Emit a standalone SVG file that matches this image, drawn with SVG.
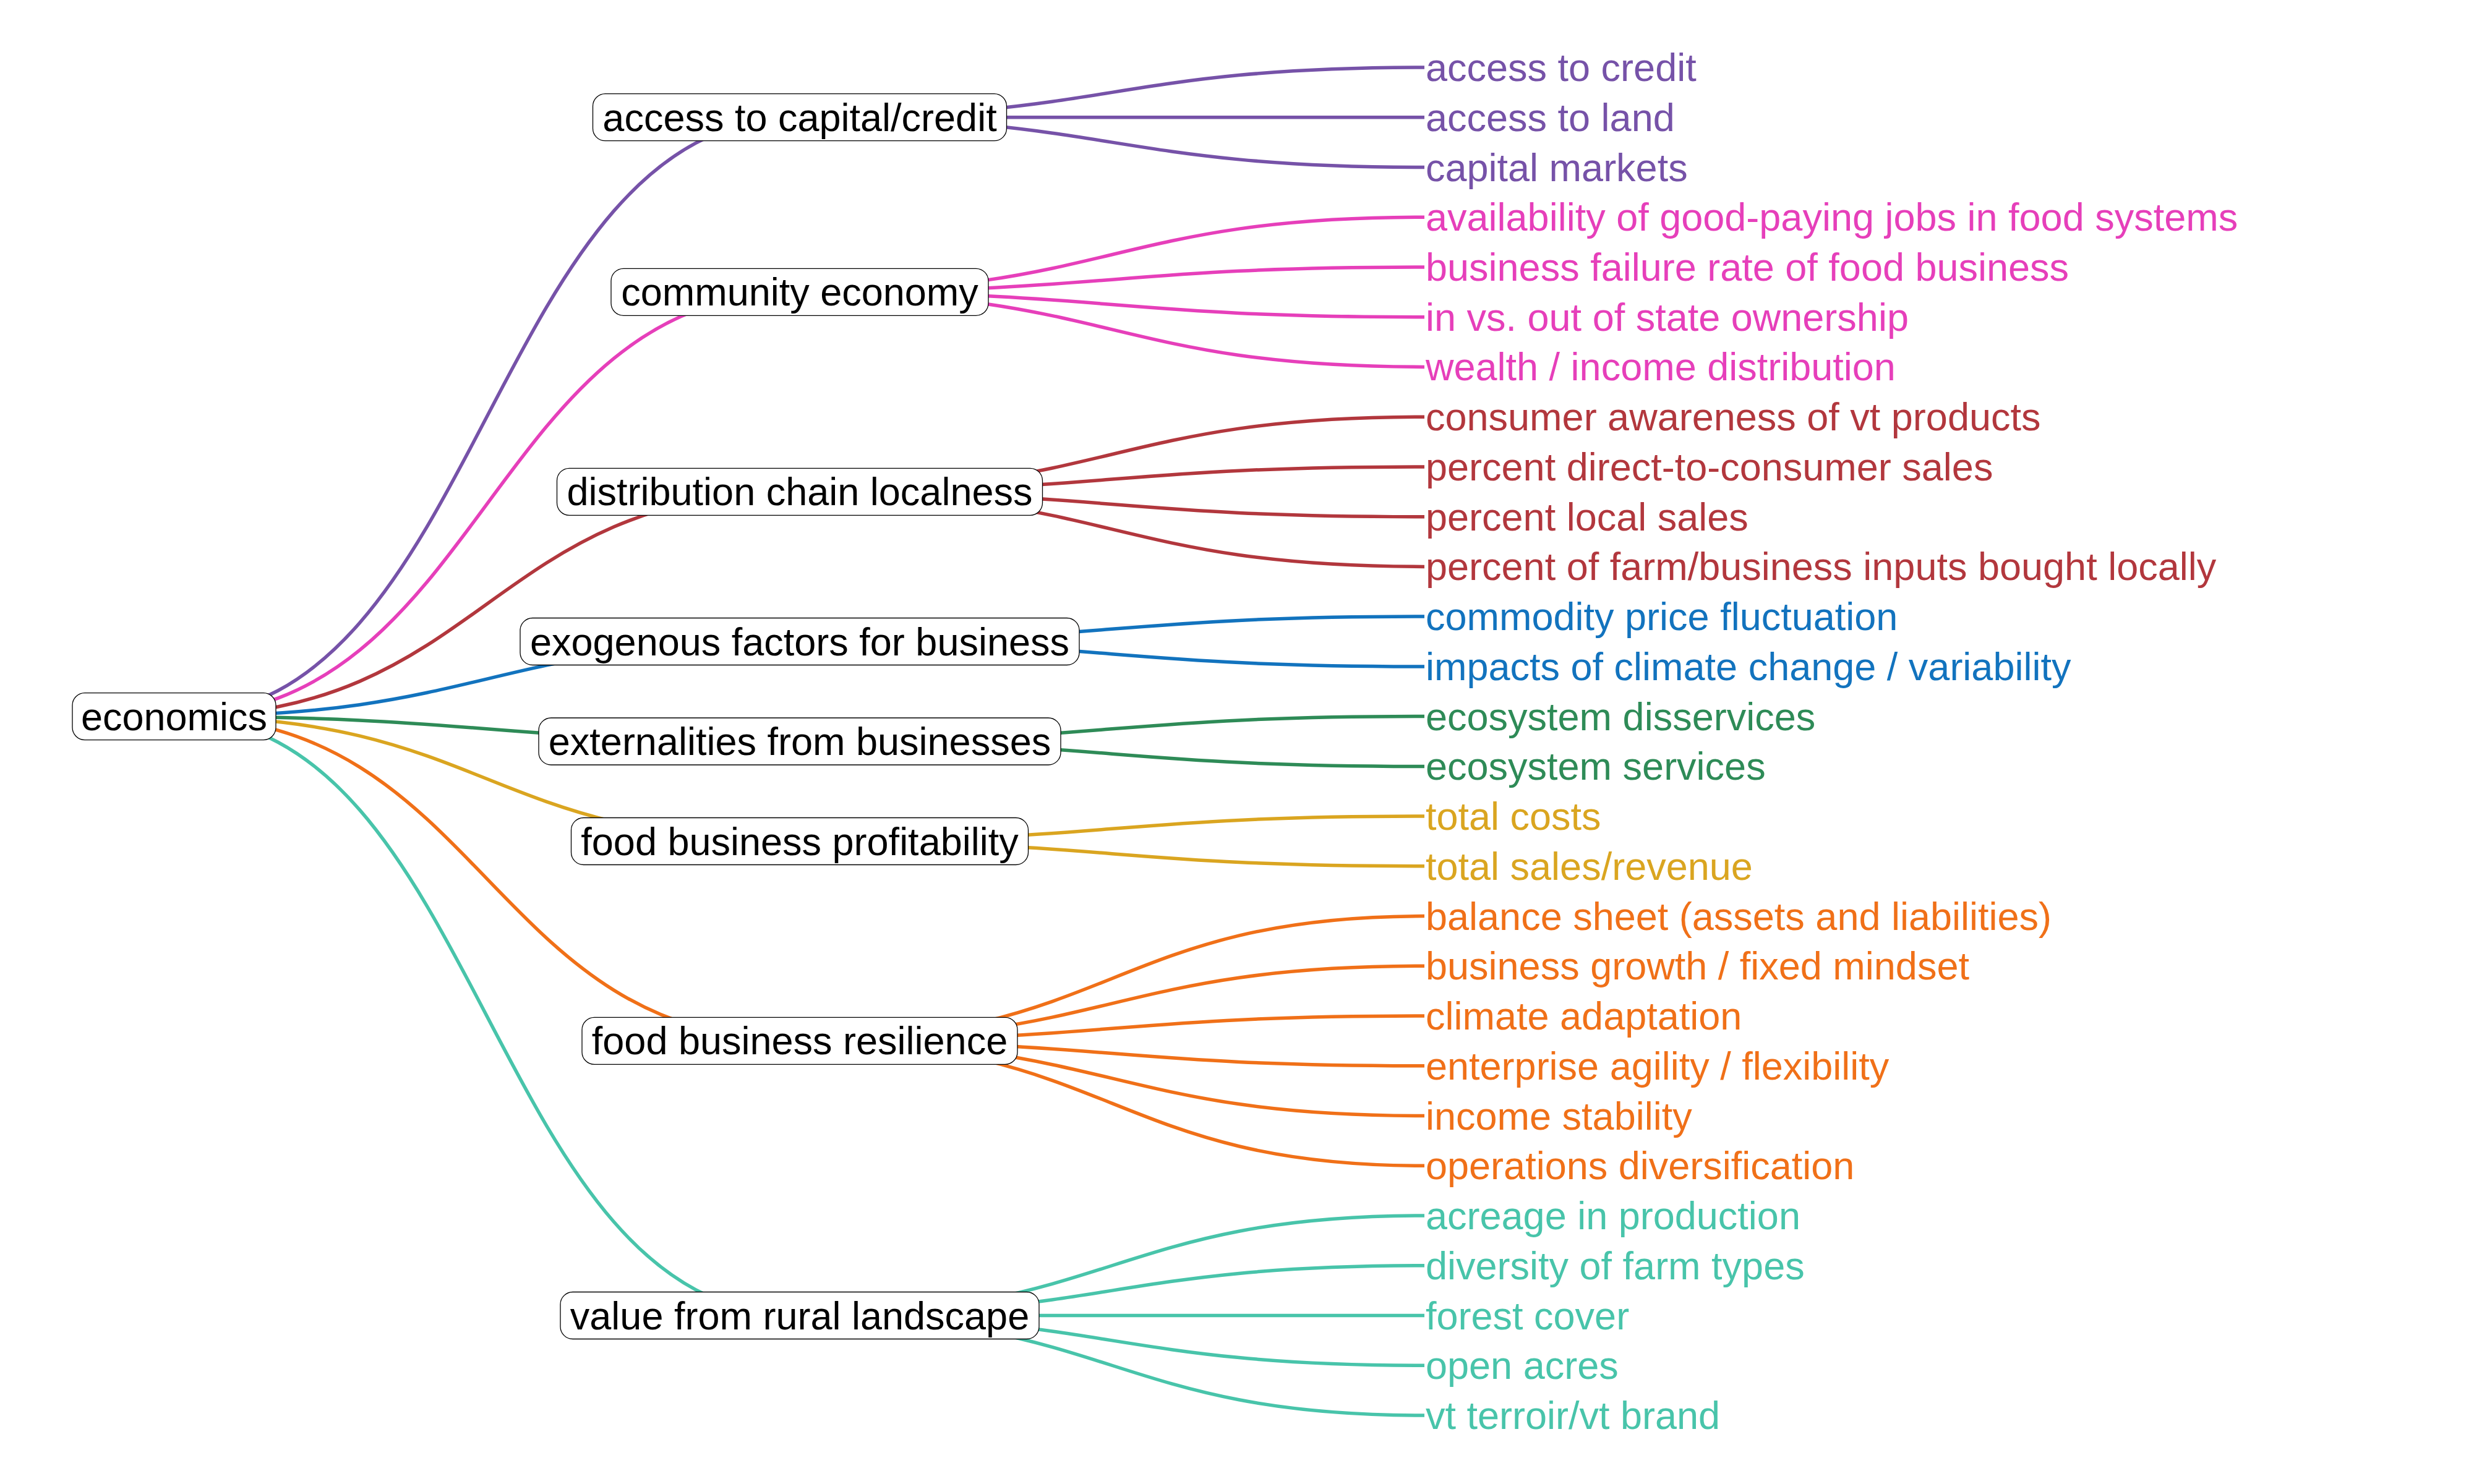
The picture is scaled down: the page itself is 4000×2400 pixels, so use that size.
<svg xmlns="http://www.w3.org/2000/svg" width="4000" height="2400" viewBox="0 0 4000 2400">
<style>
.e{fill:none;stroke-width:5.5;stroke-linecap:butt}
.box{fill:#fff;stroke:#000;stroke-width:1.3}
.nt{font-family:"Liberation Sans",Arial,sans-serif;font-size:63px;fill:#000;text-anchor:middle}
.lt{font-family:"Liberation Sans",Arial,sans-serif;font-size:63px}
.c1{stroke:#7652A8}.c2{stroke:#E63FBA}.c3{stroke:#B2373D}.c4{stroke:#1273BE}
.c5{stroke:#2E8B57}.c6{stroke:#DAA520}.c7{stroke:#F07018}.c8{stroke:#48C4AA}
.f1{fill:#7652A8}.f2{fill:#E63FBA}.f3{fill:#B2373D}.f4{fill:#1273BE}
.f5{fill:#2E8B57}.f6{fill:#DAA520}.f7{fill:#F07018}.f8{fill:#48C4AA}
</style>
<rect width="4000" height="2400" fill="#fff"/>
<g id="connectors">
<path class="e c1" d="M281.5,1158.6 C787,1158.6 787,189.7 1293,189.7"/>
<path class="e c2" d="M281.5,1158.6 C787,1158.6 787,472.3 1293,472.3"/>
<path class="e c3" d="M281.5,1158.6 C787,1158.6 787,795.3 1293,795.3"/>
<path class="e c4" d="M281.5,1158.6 C787,1158.6 787,1037.5 1293,1037.5"/>
<path class="e c5" d="M281.5,1158.6 C787,1158.6 787,1199 1293,1199"/>
<path class="e c6" d="M281.5,1158.6 C787,1158.6 787,1360.5 1293,1360.5"/>
<path class="e c7" d="M281.5,1158.6 C787,1158.6 787,1683.4 1293,1683.4"/>
<path class="e c8" d="M281.5,1158.6 C787,1158.6 787,2127.5 1293,2127.5"/>

<path class="e c1" d="M1293,189.7 C1798,189.7 1798,109 2303,109"/>
<path class="e c1" d="M1293,189.7 C1798,189.7 1798,189.7 2303,189.7"/>
<path class="e c1" d="M1293,189.7 C1798,189.7 1798,270.5 2303,270.5"/>

<path class="e c2" d="M1293,472.3 C1798,472.3 1798,351.2 2303,351.2"/>
<path class="e c2" d="M1293,472.3 C1798,472.3 1798,432 2303,432"/>
<path class="e c2" d="M1293,472.3 C1798,472.3 1798,512.7 2303,512.7"/>
<path class="e c2" d="M1293,472.3 C1798,472.3 1798,593.4 2303,593.4"/>

<path class="e c3" d="M1293,795.3 C1798,795.3 1798,674.2 2303,674.2"/>
<path class="e c3" d="M1293,795.3 C1798,795.3 1798,754.9 2303,754.9"/>
<path class="e c3" d="M1293,795.3 C1798,795.3 1798,835.7 2303,835.7"/>
<path class="e c3" d="M1293,795.3 C1798,795.3 1798,916.4 2303,916.4"/>

<path class="e c4" d="M1293,1037.5 C1798,1037.5 1798,997.1 2303,997.1"/>
<path class="e c4" d="M1293,1037.5 C1798,1037.5 1798,1077.9 2303,1077.9"/>

<path class="e c5" d="M1293,1199 C1798,1199 1798,1158.6 2303,1158.6"/>
<path class="e c5" d="M1293,1199 C1798,1199 1798,1239.4 2303,1239.4"/>

<path class="e c6" d="M1293,1360.5 C1798,1360.5 1798,1320.1 2303,1320.1"/>
<path class="e c6" d="M1293,1360.5 C1798,1360.5 1798,1400.8 2303,1400.8"/>

<path class="e c7" d="M1293,1683.4 C1798,1683.4 1798,1481.6 2303,1481.6"/>
<path class="e c7" d="M1293,1683.4 C1798,1683.4 1798,1562.3 2303,1562.3"/>
<path class="e c7" d="M1293,1683.4 C1798,1683.4 1798,1643.1 2303,1643.1"/>
<path class="e c7" d="M1293,1683.4 C1798,1683.4 1798,1723.8 2303,1723.8"/>
<path class="e c7" d="M1293,1683.4 C1798,1683.4 1798,1804.5 2303,1804.5"/>
<path class="e c7" d="M1293,1683.4 C1798,1683.4 1798,1885.3 2303,1885.3"/>

<path class="e c8" d="M1293,2127.5 C1798,2127.5 1798,1966 2303,1966"/>
<path class="e c8" d="M1293,2127.5 C1798,2127.5 1798,2046.8 2303,2046.8"/>
<path class="e c8" d="M1293,2127.5 C1798,2127.5 1798,2127.5 2303,2127.5"/>
<path class="e c8" d="M1293,2127.5 C1798,2127.5 1798,2208.2 2303,2208.2"/>
<path class="e c8" d="M1293,2127.5 C1798,2127.5 1798,2289 2303,2289"/>
</g>

<g id="node-economics"><rect class="box" x="117" y="1120.6" width="329" height="76" rx="20"/><text class="nt" x="281.5" y="1180.6">economics</text></g>
<g id="node-access-capital"><rect class="box" x="958.5" y="151.7" width="669" height="76" rx="20"/><text class="nt" x="1293" y="211.7">access to capital/credit</text></g>
<g id="node-community-economy"><rect class="box" x="988" y="434.3" width="610" height="76" rx="20"/><text class="nt" x="1293" y="494.3">community economy</text></g>
<g id="node-distribution"><rect class="box" x="900.5" y="757.3" width="785" height="76" rx="20"/><text class="nt" x="1293" y="817.3">distribution chain localness</text></g>
<g id="node-exogenous"><rect class="box" x="841" y="999.5" width="904" height="76" rx="20"/><text class="nt" x="1293" y="1059.5">exogenous factors for business</text></g>
<g id="node-externalities"><rect class="box" x="871" y="1161" width="844" height="76" rx="20"/><text class="nt" x="1293" y="1221">externalities from businesses</text></g>
<g id="node-profitability"><rect class="box" x="923.5" y="1322.5" width="739" height="76" rx="20"/><text class="nt" x="1293" y="1382.5">food business profitability</text></g>
<g id="node-resilience"><rect class="box" x="941" y="1645.4" width="704" height="76" rx="20"/><text class="nt" x="1293" y="1705.4">food business resilience</text></g>
<g id="node-rural"><rect class="box" x="906" y="2089.5" width="774" height="76" rx="20"/><text class="nt" x="1293" y="2149.5">value from rural landscape</text></g>

<g id="leaf-access-credit"><text class="lt f1" x="2305" y="131">access to credit</text></g>
<g id="leaf-access-land"><text class="lt f1" x="2305" y="211.7">access to land</text></g>
<g id="leaf-capital-markets"><text class="lt f1" x="2305" y="292.5">capital markets</text></g>
<g id="leaf-jobs"><text class="lt f2" x="2305" y="373.2">availability of good-paying jobs in food systems</text></g>
<g id="leaf-failure"><text class="lt f2" x="2305" y="454">business failure rate of food business</text></g>
<g id="leaf-ownership"><text class="lt f2" x="2305" y="534.7">in vs. out of state ownership</text></g>
<g id="leaf-wealth"><text class="lt f2" x="2305" y="615.4">wealth / income distribution</text></g>
<g id="leaf-awareness"><text class="lt f3" x="2305" y="696.2">consumer awareness of vt products</text></g>
<g id="leaf-d2c"><text class="lt f3" x="2305" y="776.9">percent direct-to-consumer sales</text></g>
<g id="leaf-local-sales"><text class="lt f3" x="2305" y="857.7">percent local sales</text></g>
<g id="leaf-inputs"><text class="lt f3" x="2305" y="938.4">percent of farm/business inputs bought locally</text></g>
<g id="leaf-commodity"><text class="lt f4" x="2305" y="1019.1">commodity price fluctuation</text></g>
<g id="leaf-climate-impacts"><text class="lt f4" x="2305" y="1099.9">impacts of climate change / variability</text></g>
<g id="leaf-disservices"><text class="lt f5" x="2305" y="1180.6">ecosystem disservices</text></g>
<g id="leaf-services"><text class="lt f5" x="2305" y="1261.4">ecosystem services</text></g>
<g id="leaf-costs"><text class="lt f6" x="2305" y="1342.1">total costs</text></g>
<g id="leaf-revenue"><text class="lt f6" x="2305" y="1422.8">total sales/revenue</text></g>
<g id="leaf-balance"><text class="lt f7" x="2305" y="1503.6">balance sheet (assets and liabilities)</text></g>
<g id="leaf-growth"><text class="lt f7" x="2305" y="1584.3">business growth / fixed mindset</text></g>
<g id="leaf-adaptation"><text class="lt f7" x="2305" y="1665.1">climate adaptation</text></g>
<g id="leaf-agility"><text class="lt f7" x="2305" y="1745.8">enterprise agility / flexibility</text></g>
<g id="leaf-income"><text class="lt f7" x="2305" y="1826.5">income stability</text></g>
<g id="leaf-diversification"><text class="lt f7" x="2305" y="1907.3">operations diversification</text></g>
<g id="leaf-acreage"><text class="lt f8" x="2305" y="1988">acreage in production</text></g>
<g id="leaf-farm-types"><text class="lt f8" x="2305" y="2068.8">diversity of farm types</text></g>
<g id="leaf-forest"><text class="lt f8" x="2305" y="2149.5">forest cover</text></g>
<g id="leaf-open-acres"><text class="lt f8" x="2305" y="2230.2">open acres</text></g>
<g id="leaf-terroir"><text class="lt f8" x="2305" y="2311">vt terroir/vt brand</text></g>
</svg>
